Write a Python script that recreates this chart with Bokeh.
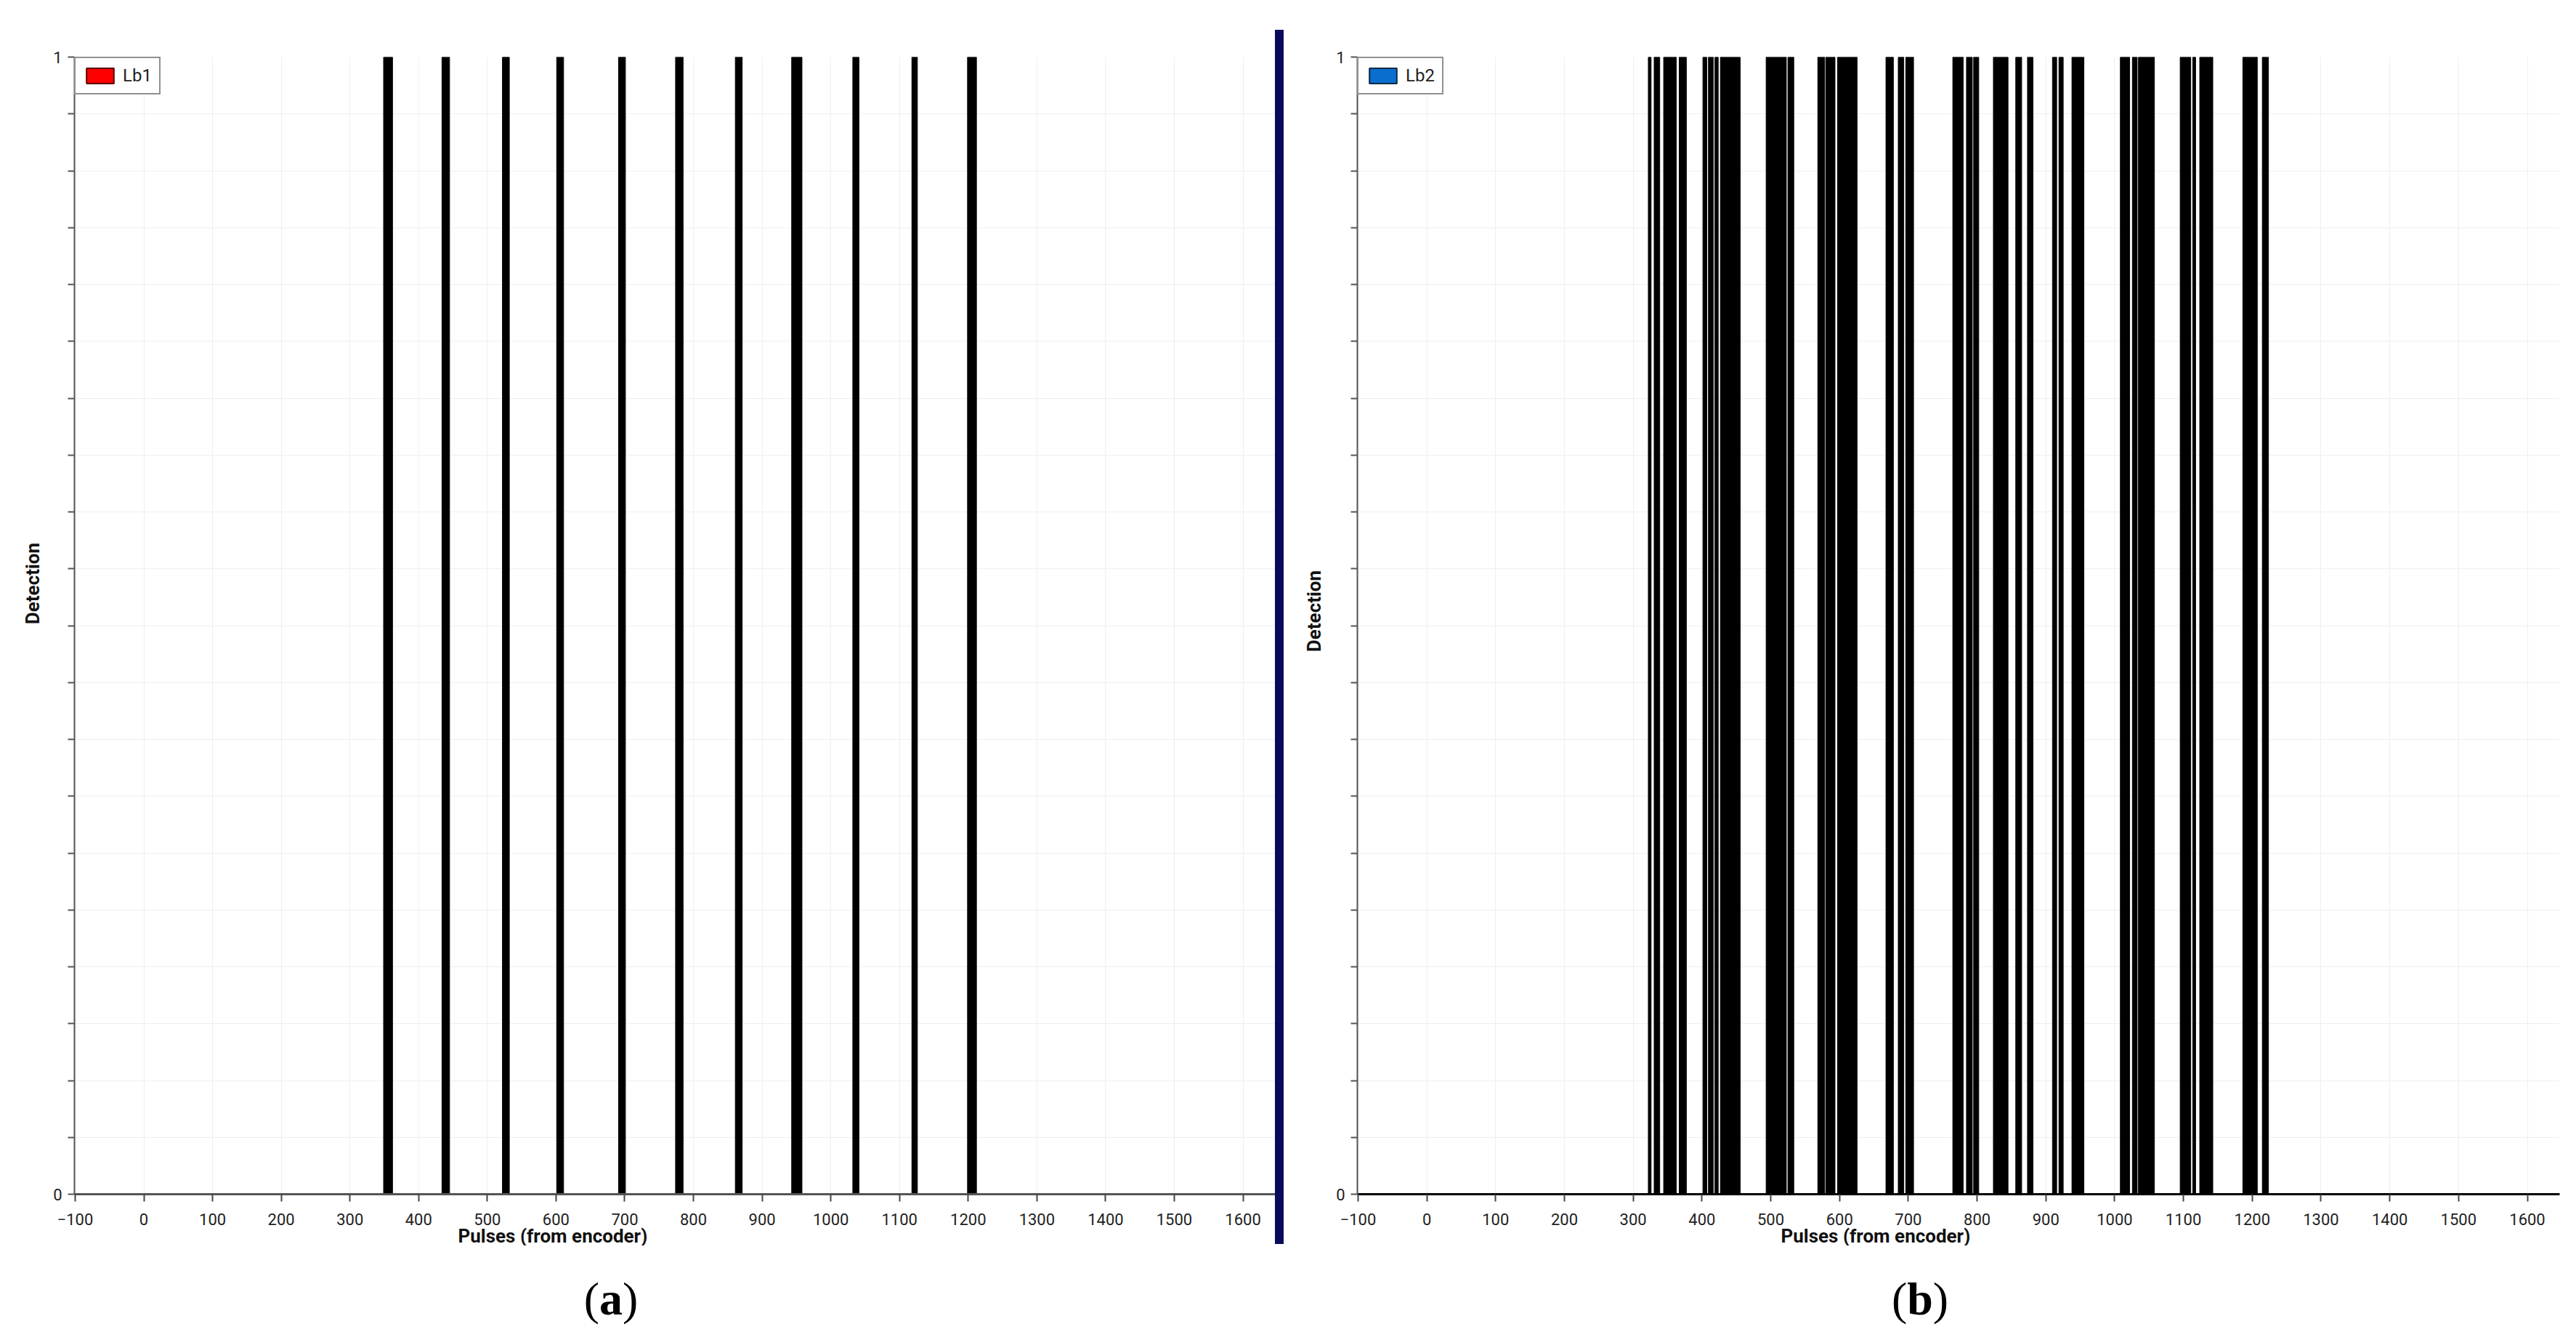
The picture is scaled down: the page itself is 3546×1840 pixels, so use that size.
from bokeh.plotting import figure
from bokeh.models import Range1d, FixedTicker, Legend, LegendItem, Title, Div
from bokeh.layouts import row, column
from bokeh.embed import file_html
from bokeh.resources import INLINE

# ---------------- data ----------------
# Panel (a): detection intervals (pulse ranges where detection == 1)
pulse_start_a = [349, 434, 522, 601, 691, 774, 861, 943, 1032, 1118, 1199]
pulse_end_a   = [362, 445, 532, 611, 701, 785, 871, 958, 1041, 1126, 1212]

# Panel (b): detection intervals
pulse_start_b = [322, 330.5, 344.3, 366.9, 401.4, 409.4, 418.8, 426.8, 493.3, 525,
                 568.4, 580, 597.2, 667.5, 685.4, 696.3, 764.7, 784.6, 795,
                 823.7, 856.2, 873.3, 909.6, 919, 937.9, 1008.3, 1025.8, 1034.6,
                 1095.3, 1113.6, 1123.7, 1186.4, 1214.7]
pulse_end_b   = [326, 338.6, 362.7, 377.3, 407, 416.4, 423.6, 455.6, 522.6, 533.5,
                 578.3, 593.4, 625.5, 678.3, 693.4, 707.6, 779.8, 793, 802.4,
                 845, 864.8, 881.3, 915.7, 925.2, 955.3, 1021.8, 1032.7, 1057.8,
                 1110.7, 1117.7, 1142.7, 1207.4, 1223.6]

x_ticks = list(range(-100, 1700, 100))
y_major_ticks = [0, 1]
y_minor_ticks = [round(i * 0.05, 2) for i in range(1, 20)]
series_names = ["Lb1", "Lb2"]
swatch_colors = ["#ff0000", "#0a6ecf"]
swatch_borders = ["#5a0000", "#0a2a45"]
panel_tags = ["a", "b"]
x_axis_title = "Pulses (from encoder)"
y_axis_title = "Detection"

X_RANGE = (-101, 1647)
FONT = "Roboto"
NAVY = "#0a0a5c"
NAN = float("nan")

ROW_H = 1714              # row holding the two panels (page y 0..1714)
BOT_H = 1840 - ROW_H      # strip below with the panel tags


def make_panel(starts, ends, name, sw_color, sw_border, width,
               mb_left, mb_right, xaxis_color, title_offset):
    p = figure(width=width, height=ROW_H, output_backend="svg",
               toolbar_location=None, x_range=Range1d(*X_RANGE),
               y_range=Range1d(0, 1), min_border_left=mb_left,
               min_border_right=mb_right, min_border_top=78,
               min_border_bottom=60)
    p.outline_line_color = None
    p.background_fill_color = "white"
    p.border_fill_color = "white"

    p.xgrid.ticker = FixedTicker(ticks=x_ticks)
    p.xgrid.grid_line_color = "#efefef"
    p.ygrid.ticker = FixedTicker(ticks=y_major_ticks, minor_ticks=y_minor_ticks)
    p.ygrid.grid_line_color = "#efefef"
    p.ygrid.minor_grid_line_color = "#efefef"

    xa = p.xaxis[0]
    xa.ticker = FixedTicker(ticks=x_ticks, minor_ticks=[])
    xa.axis_line_color = xaxis_color
    xa.axis_line_width = 3
    xa.major_tick_line_color = "#444444"
    xa.major_tick_line_width = 2
    xa.major_tick_out = 10
    xa.major_tick_in = 0
    xa.minor_tick_line_color = None
    xa.major_label_text_font = FONT
    xa.major_label_text_font_size = "22px"
    xa.major_label_text_color = "#222222"
    xa.major_label_standoff = 16

    ya = p.yaxis[0]
    ya.ticker = FixedTicker(ticks=y_major_ticks, minor_ticks=y_minor_ticks)
    ya.axis_line_color = "#555555"
    ya.axis_line_width = 2
    ya.major_tick_line_color = "#555555"
    ya.minor_tick_line_color = "#555555"
    ya.major_tick_line_width = 2
    ya.minor_tick_line_width = 2
    ya.major_tick_out = 9
    ya.minor_tick_out = 9
    ya.major_tick_in = 0
    ya.minor_tick_in = 0
    ya.major_label_text_font = FONT
    ya.major_label_text_font_size = "22px"
    ya.major_label_text_color = "#222222"
    ya.major_label_standoff = 8

    p.quad(left=starts, right=ends, bottom=[0] * len(starts), top=[1] * len(starts),
           fill_color="black", line_color="black", line_width=1)

    # legend swatch (its colour differs from the drawn pulses); NaN = not drawn in plot
    dummy = p.quad(left=[NAN], right=[NAN], bottom=[NAN], top=[NAN],
                   fill_color=sw_color, line_color=sw_border, line_width=2)
    leg = Legend(items=[LegendItem(label=name, renderers=[dummy])],
                 location="top_left", margin=0, padding=10, spacing=0,
                 glyph_width=47, glyph_height=26, label_standoff=8,
                 label_text_font=FONT, label_text_font_size="24px",
                 label_text_color="#222222", label_height=26,
                 border_line_color="#222222", border_line_width=2,
                 background_fill_color="white", background_fill_alpha=1)
    p.add_layout(leg)

    # x axis title, placed under the tick labels
    p.add_layout(Title(text=x_axis_title, align="left", offset=title_offset,
                       vertical_align="top", standoff=-6, text_font=FONT,
                       text_font_style="bold", text_font_size="26px",
                       text_color="#111111"), "below")
    return p


def abs_text(x, y, html, style, rotate=False):
    rot = " rotate(-90deg)" if rotate else ""
    return (f'<div style="position:absolute;left:{x}px;top:{y}px;'
            f'transform:translate(-50%,-50%){rot};white-space:nowrap;'
            f'line-height:1;{style}">{html}</div>')


def box(width, height, inner):
    return Div(width=width, height=height, margin=0,
               text=f'<div style="position:relative;width:{width}px;'
                    f'height:{height}px;overflow:visible;">{inner}</div>')


TITLE_STYLE = f"font-family:{FONT};font-weight:bold;font-size:26px;color:#111111;"
TAG_STYLE = "font-family:'Liberation Serif';font-size:64px;color:#000000;"

# ---- row: [left text | panel a | divider + text | panel b]  (page pixels)
left = box(62, ROW_H, abs_text(45, 803, y_axis_title, TITLE_STYLE, True))

pa = make_panel(pulse_start_a, pulse_end_a, series_names[0], swatch_colors[0],
                swatch_borders[0], width=1755 - 62, mb_left=102 - 62, mb_right=0,
                xaxis_color="#555555", title_offset=630 - 102)

mid_inner = (f'<div style="position:absolute;left:0px;top:41px;width:12px;'
             f'height:{1712 - 41}px;background:{NAVY};"></div>'
             + abs_text(1809 - 1755, 841, y_axis_title, TITLE_STYLE, True))
mid = box(1830 - 1755, ROW_H, mid_inner)

pb = make_panel(pulse_start_b, pulse_end_b, series_names[1], swatch_colors[1],
                swatch_borders[1], width=3538 - 1830, mb_left=1868 - 1830,
                mb_right=3538 - 3523, xaxis_color="#000000",
                title_offset=2451 - 1868)

# ---- bottom strip with panel tags "(a)" and "(b)"
tags_inner = "".join(abs_text(cx, 1788 - ROW_H, f"(<b>{t}</b>)", TAG_STYLE)
                     for t, cx in zip(panel_tags, [841, 2643]))
bot = box(3538, BOT_H, tags_inner)

layout = column(row(left, pa, mid, pb), bot)
open("out.html", "w").write(file_html(layout, INLINE))
